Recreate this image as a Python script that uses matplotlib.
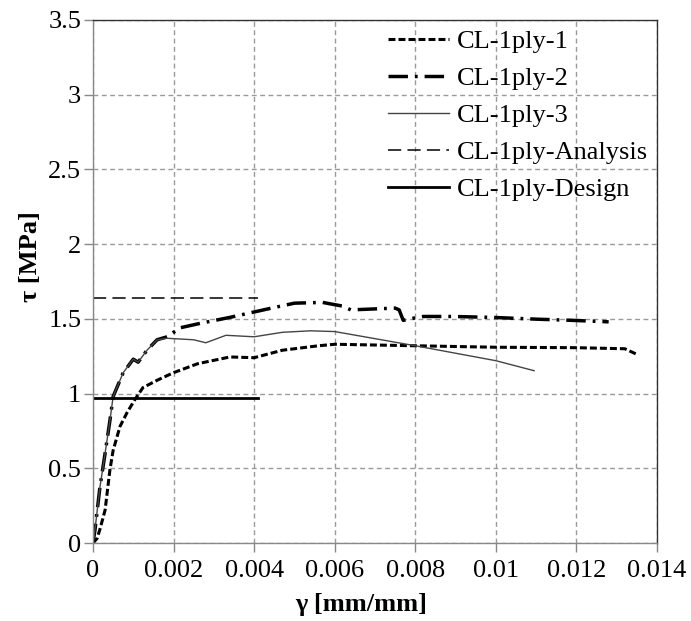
import matplotlib
matplotlib.use("Agg")
import matplotlib.pyplot as plt
from matplotlib.ticker import FixedLocator

plt.rcParams['font.family'] = ['Liberation Serif', 'DejaVu Serif']
plt.rcParams['lines.scale_dashes'] = False

# ---- data ----
g1 = [0, 0.0001, 0.00017, 0.0003, 0.00042, 0.0005, 0.00067, 0.00084, 0.00104, 0.00124,
      0.0016, 0.002, 0.0026, 0.0034, 0.004, 0.0047, 0.0056, 0.006, 0.008, 0.010, 0.012,
      0.0132, 0.01352]
t1 = [0, 0.03, 0.09, 0.22, 0.49, 0.62, 0.78, 0.87, 0.96, 1.04,
      1.09, 1.14, 1.20, 1.245, 1.24, 1.29, 1.32, 1.33, 1.32, 1.31, 1.307,
      1.30, 1.26]

g2 = [0, 0.00005, 0.00017, 0.0003, 0.00042, 0.0005, 0.00075, 0.001, 0.00112, 0.00134,
      0.00159, 0.00184, 0.00216, 0.00266, 0.0034, 0.0039, 0.0044, 0.005, 0.0057, 0.0062,
      0.0064, 0.0075, 0.0076, 0.0077, 0.0080, 0.0082, 0.0089, 0.0099, 0.011, 0.0119, 0.0128]
t2 = [0, 0.09, 0.37, 0.6, 0.82, 0.98, 1.14, 1.23, 1.21, 1.29,
      1.36, 1.38, 1.44, 1.47, 1.51, 1.54, 1.57, 1.605, 1.61, 1.585,
      1.56, 1.572, 1.56, 1.49, 1.507, 1.516, 1.516, 1.51, 1.498, 1.49, 1.48]

g3 = [0, 0.00005, 0.00017, 0.0003, 0.00042, 0.0005, 0.00075, 0.001, 0.00112, 0.00134,
      0.00159, 0.00184, 0.0025, 0.0028, 0.0033, 0.004, 0.0047, 0.0054, 0.006, 0.008,
      0.010, 0.01095]
t3 = [0, 0.09, 0.37, 0.6, 0.82, 0.98, 1.14, 1.23, 1.21, 1.29,
      1.36, 1.37, 1.36, 1.34, 1.39, 1.38, 1.41, 1.42, 1.415, 1.32,
      1.22, 1.153]

g_analysis = [0, 0.0041]
t_analysis = [1.64, 1.64]
g_design = [0, 0.0041]
t_design = [0.97, 0.97]

labels = ['CL-1ply-1', 'CL-1ply-2', 'CL-1ply-3', 'CL-1ply-Analysis', 'CL-1ply-Design']
xticks = [0, 0.002, 0.004, 0.006, 0.008, 0.01, 0.012, 0.014]
xticklabels = ['0', '0.002', '0.004', '0.006', '0.008', '0.01', '0.012', '0.014']
yticks = [0, 0.5, 1, 1.5, 2, 2.5, 3, 3.5]
yticklabels = ['0', '0.5', '1', '1.5', '2', '2.5', '3', '3.5']

# ---- figure ----
W, H = 691, 621
fig = plt.figure(figsize=(W / 100, H / 100), dpi=100)
L, R, T, B = 93, 657, 20, 543
ax = fig.add_axes([L / W, 1 - B / H, (R - L) / W, (B - T) / H])

ax.plot(g1, t1, color='black', lw=2.2, linestyle=(0, (5, 2.2)), label=labels[0])
ax.plot(g2, t2, color='black', lw=2.5, linestyle=(0, (14, 5, 2, 5)), label=labels[1])
ax.plot(g3, t3, color='#444444', lw=1.0, linestyle='-', label=labels[2])
ax.plot(g_analysis, t_analysis, color='black', lw=1.1, linestyle=(0, (9.5, 4.5)), label=labels[3])
ax.plot(g_design, t_design, color='black', lw=2.0, linestyle='-', label=labels[4])

ax.set_xlim(0, 0.014)
ax.set_ylim(0, 3.5)
ax.xaxis.set_major_locator(FixedLocator(xticks))
ax.yaxis.set_major_locator(FixedLocator(yticks))
ax.set_xticklabels(xticklabels)
ax.set_yticklabels(yticklabels)

ax.grid(True, color='#9a9a9a', lw=1.0, linestyle=(0, (3.5, 2.5)))
ax.set_axisbelow(True)

for s in ['left', 'bottom']:
    ax.spines[s].set_color('#888888')
    ax.spines[s].set_linewidth(1.0)
for s in ['top', 'right']:
    ax.spines[s].set_color('#333333')
    ax.spines[s].set_linewidth(1.0)

ax.tick_params(axis='both', which='major', direction='out', length=6.5, width=1.0,
               color='#888888', labelsize=19, labelcolor='black')
ax.tick_params(axis='y', pad=2)
ax.tick_params(axis='x', pad=6)

fig.text(30 / W, 1 - 257 / H, 'τ [MPa]', rotation=90, ha='center', va='center',
         fontsize=19, fontweight='bold')
fig.text(361 / W, 1 - 604 / H, 'γ [mm/mm]', ha='center', va='center',
         fontsize=19, fontweight='bold')

leg = ax.legend(loc='upper left', bbox_to_anchor=((388 - L) / (R - L), (B - 30) / (B - T)),
                frameon=False, fontsize=19, handlelength=2.3, handletextpad=0.3,
                labelspacing=0.51, borderpad=0, borderaxespad=0)

fig.savefig('out.png', dpi=100)
